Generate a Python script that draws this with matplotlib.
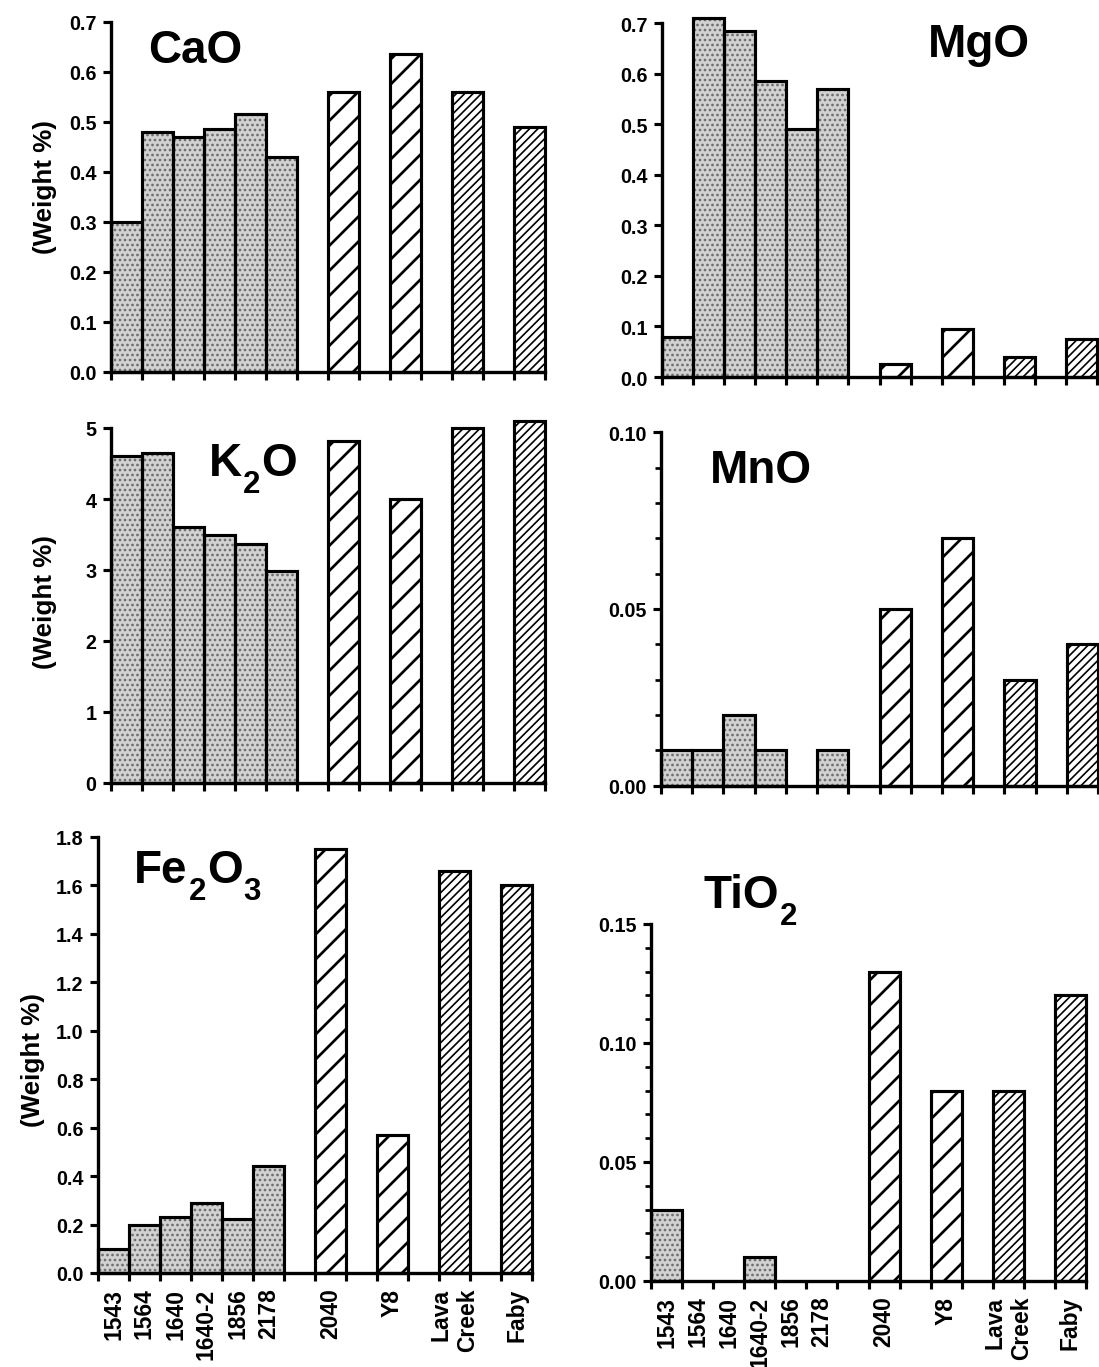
import matplotlib
matplotlib.use("Agg")
import matplotlib.pyplot as plt
import numpy as np
from matplotlib.transforms import IdentityTransform
from matplotlib.ticker import FormatStrFormatter, MultipleLocator

# ---------------- data ----------------
samples = ["1543", "1564", "1640", "1640-2", "1856", "2178", "2040", "Y8", "Lava\nCreek", "Faby"]
kinds = ["stipple"] * 6 + ["wide", "wide", "dense", "dense"]

cao = [0.30, 0.48, 0.47, 0.485, 0.515, 0.43, 0.56, 0.635, 0.56, 0.49]
mgo = [0.08, 0.71, 0.685, 0.585, 0.49, 0.57, 0.025, 0.095, 0.04, 0.075]
k2o = [4.60, 4.65, 3.60, 3.50, 3.37, 2.98, 4.82, 4.00, 5.00, 5.10]
mno = [0.01, 0.01, 0.02, 0.01, 0.0, 0.01, 0.05, 0.07, 0.03, 0.04]
fe2o3 = [0.10, 0.20, 0.23, 0.29, 0.225, 0.44, 1.75, 0.57, 1.66, 1.60]
tio2 = [0.03, 0.0, 0.0, 0.01, 0.0, 0.0, 0.13, 0.08, 0.08, 0.12]

# ---------------- layout ----------------
W, H, DPI = 1099, 1368, 150
plt.rcParams["font.family"] = ["Liberation Sans", "DejaVu Sans"]
plt.rcParams["font.weight"] = "bold"

fig = plt.figure(figsize=(W / DPI, H / DPI), dpi=DPI)
fig.patch.set_facecolor("white")

n_stip = kinds.count("stipple")
pos = [i if i < n_stip else n_stip + 1 + 2 * (i - n_stip) for i in range(len(samples))]
XMIN, XMAX = -0.5, pos[-1] + 0.5

STYLE = {
    "stipple": dict(face="#d2d2d2", hatch=".....", hc="#6a6a6a", hlw=0.8),
    "wide": dict(face="white", hatch="//", hc="black", hlw=1.3),
    "dense": dict(face="white", hatch="//////", hc="black", hlw=0.8),
}


def make_axes(x0, x1, y0, ytop):
    return fig.add_axes([x0 / W, 1 - y0 / H, (x1 - x0) / W, (y0 - ytop) / H])


def draw_panel(ax, values, ymax, major, fmt, minor=None, bottom_labels=False):
    for i, v in enumerate(values):
        if v <= 0:
            continue
        st = STYLE[kinds[i]]
        with plt.rc_context({"hatch.linewidth": st["hlw"]}):
            ax.bar(pos[i], v, width=1.0, color=st["face"], edgecolor=st["hc"],
                   hatch=st["hatch"], linewidth=0, clip_on=False, zorder=2)
        ax.bar(pos[i], v, width=1.0, fill=False, edgecolor="black",
               linewidth=1.5, clip_on=False, zorder=3)
    ax.set_xlim(XMIN, XMAX)
    ax.set_ylim(0, ymax)
    for s in ("top", "right"):
        ax.spines[s].set_visible(False)
    for s in ("left", "bottom"):
        ax.spines[s].set_linewidth(1.6)
        ax.spines[s].set_zorder(4)
    ax.set_xticks(np.arange(XMIN, XMAX + 0.01, 1.0))
    ax.tick_params(axis="x", which="major", direction="out", length=4, width=1.5,
                   labelbottom=False)
    ax.set_yticks(major)
    ax.yaxis.set_major_formatter(FormatStrFormatter(fmt))
    ax.tick_params(axis="y", which="major", direction="out", length=4, width=1.5,
                   labelsize=9.5, pad=3)
    if minor is not None:
        ax.yaxis.set_minor_locator(MultipleLocator(minor))
        ax.tick_params(axis="y", which="minor", direction="out", length=3, width=1.3)
    for lbl in ax.get_yticklabels():
        lbl.set_fontweight("bold")
    if bottom_labels:
        ax.set_xticks(pos, samples, minor=True)
        ax.tick_params(axis="x", which="minor", length=0, pad=7, labelsize=11,
                       labelrotation=90)
        for lbl in ax.get_xticklabels(minor=True):
            lbl.set_fontweight("bold")
            lbl.set_multialignment("right")
    ax.set_facecolor("none")


ax_cao = make_axes(111, 545, 372.7, 22.7)
draw_panel(ax_cao, cao, 0.7, np.arange(0, 0.71, 0.1), "%.1f")

ax_mgo = make_axes(662, 1097, 378, 24)
draw_panel(ax_mgo, mgo, 0.7, np.arange(0, 0.71, 0.1), "%.1f")

ax_k2o = make_axes(111, 545, 784, 429)
draw_panel(ax_k2o, k2o, 5, np.arange(0, 5.1, 1), "%d")

ax_mno = make_axes(661, 1098, 786.7, 433.3)
draw_panel(ax_mno, mno, 0.10, [0, 0.05, 0.10], "%.2f", minor=0.01)

ax_fe = make_axes(98, 532, 1274, 838)
draw_panel(ax_fe, fe2o3, 1.8, np.arange(0, 1.81, 0.2), "%.1f", bottom_labels=True)

ax_ti = make_axes(651, 1086, 1282, 925)
draw_panel(ax_ti, tio2, 0.15, [0, 0.05, 0.10, 0.15], "%.2f", minor=0.01,
           bottom_labels=True)

# y labels
for xc, yc in [(45, 187), (45, 602), (33, 1060)]:
    fig.text(xc / W, 1 - yc / H, "(Weight %)", rotation=90, ha="center", va="center",
             fontsize=12.5, fontweight="bold")

# chemical titles with lowered subscripts
renderer = fig.canvas.get_renderer()


def chem_title(x_px, base_px, parts, size=22, sub_size=15, drop=17):
    x = x_px
    for txt, sub in parts:
        y = H - base_px - (drop if sub else 0)
        t = fig.text(x, y, txt, transform=IdentityTransform(), ha="left",
                     va="baseline", fontsize=sub_size if sub else size,
                     fontweight="bold")
        bb = t.get_window_extent(renderer)
        x = bb.x1 + 1


chem_title(148, 63, [("CaO", False)])
chem_title(928, 57, [("MgO", False)])
chem_title(209, 476, [("K", False), ("2", True), ("O", False)])
chem_title(710, 483, [("MnO", False)])
chem_title(134, 883, [("Fe", False), ("2", True), ("O", False), ("3", True)])
chem_title(703, 908, [("TiO", False), ("2", True)])

fig.savefig("out.png", dpi=DPI, facecolor="white")
